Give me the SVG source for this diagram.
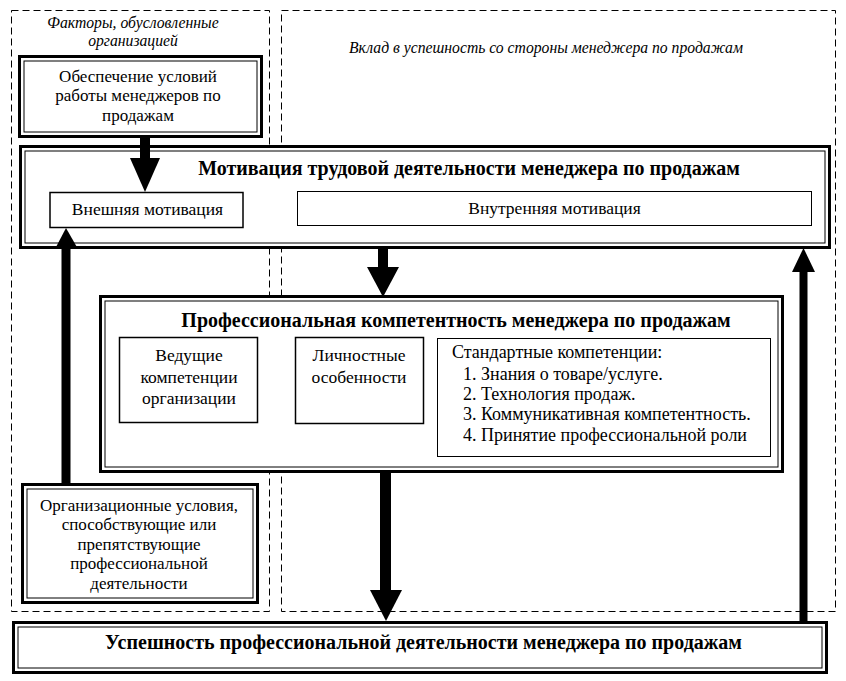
<svg xmlns="http://www.w3.org/2000/svg" width="846" height="681" viewBox="0 0 846 681">
<style>
.dash{fill:none;stroke:#000;stroke-width:1;stroke-dasharray:7,4}
.thick{fill:#fff;stroke:#000;stroke-width:3}
.thin{fill:none;stroke:#000;stroke-width:1}
.box{fill:#fff;stroke:#000;stroke-width:1.5}
text{font-family:'Liberation Serif','Times New Roman',serif;fill:#000}
.t{font-size:17.5px}
.s{font-size:17px}
.l{font-size:18px}
.b{font-size:20px;font-weight:bold}
.i{font-size:15.7px;font-style:italic}
.shaft{fill:#000}
</style>
<rect width="846" height="681" fill="#fff"/>
<g id="regions">
<rect class="dash" x="11.5" y="10.5" width="258" height="601"/>
<rect class="dash" x="281.5" y="10.5" width="554" height="601"/>
<text class="i" x="133" y="28" text-anchor="middle">Факторы, обусловленные</text>
<text class="i" x="133" y="46" text-anchor="middle">организацией</text>
<text class="i" x="546" y="53" text-anchor="middle">Вклад в успешность со стороны менеджера по продажам</text>
</g>
<g id="n-obespechenie">
<rect class="thick" x="19.5" y="56.5" width="242" height="80"/>
<rect class="thin" x="24" y="61" width="233" height="71"/>
<text class="s" x="138" y="82" text-anchor="middle">Обеспечение условий</text>
<text class="s" x="138" y="101" text-anchor="middle">работы менеджеров по</text>
<text class="s" x="138" y="121" text-anchor="middle">продажам</text>
</g>
<g id="n-motivation">
<rect class="thick" x="20.5" y="146.5" width="809" height="101"/>
<rect class="thin" x="25" y="151" width="800" height="92"/>
<text class="b" x="469" y="175" text-anchor="middle">Мотивация трудовой деятельности менеджера по продажам</text>
</g>
<g id="n-vneshnyaya">
<rect class="box" x="50" y="192.5" width="193" height="35"/>
<text class="t" x="147.5" y="215" text-anchor="middle">Внешняя мотивация</text>
</g>
<g id="n-vnutrennyaya">
<rect class="thin" x="297.5" y="191.5" width="514" height="34" fill="#fff"/>
<text class="t" x="554.5" y="214" text-anchor="middle">Внутренняя мотивация</text>
</g>
<g id="n-prof">
<rect class="thick" x="100.5" y="296.5" width="682" height="175"/>
<rect class="thin" x="105" y="301" width="673" height="166"/>
<text class="b" x="456" y="327" text-anchor="middle">Профессиональная компетентность менеджера по продажам</text>
</g>
<g id="n-vedushie">
<rect class="box" x="119.5" y="337.5" width="138" height="85"/>
<text class="t" x="189" y="361" text-anchor="middle">Ведущие</text>
<text class="t" x="189" y="383" text-anchor="middle">компетенции</text>
<text class="t" x="189" y="404" text-anchor="middle">организации</text>
</g>
<g id="n-lichnostnye">
<rect class="box" x="295.5" y="337.5" width="128" height="86"/>
<text class="t" x="359" y="361" text-anchor="middle">Личностные</text>
<text class="t" x="359" y="383" text-anchor="middle">особенности</text>
</g>
<g id="n-standart">
<rect class="thin" x="437.5" y="338.5" width="333" height="118" fill="#fff"/>
<text class="l" x="452" y="358">Стандартные компетенции:</text>
<text class="l" x="463" y="380">1. Знания о товаре/услуге.</text>
<text class="l" x="463" y="400">2. Технология продаж.</text>
<text class="l" x="463" y="420">3. Коммуникативная компетентность.</text>
<text class="l" x="463" y="441">4. Принятие профессиональной роли</text>
</g>
<g id="n-org">
<rect class="thick" x="22.5" y="484.5" width="235" height="118"/>
<rect class="thin" x="27" y="489" width="226" height="109"/>
<text class="s" x="139" y="511" text-anchor="middle">Организационные условия,</text>
<text class="s" x="139" y="530" text-anchor="middle">способствующие или</text>
<text class="s" x="139" y="550" text-anchor="middle">препятствующие</text>
<text class="s" x="139" y="569" text-anchor="middle">профессиональной</text>
<text class="s" x="139" y="589" text-anchor="middle">деятельности</text>
</g>
<g id="n-uspeshnost">
<rect class="thick" x="13.5" y="622.5" width="813" height="50"/>
<rect class="thin" x="18" y="627" width="804" height="41"/>
<text class="b" x="423.5" y="649" text-anchor="middle">Успешность профессиональной деятельности менеджера по продажам</text>
</g>
<g id="connectors">
<rect class="shaft" x="140" y="137" width="10" height="22"/>
<polygon class="shaft" points="130,158 160,158 145,192"/>
<rect class="shaft" x="61.5" y="247" width="9" height="237"/>
<polygon class="shaft" points="55,249 78,249 66,228"/>
<rect class="shaft" x="378" y="248" width="10" height="20"/>
<polygon class="shaft" points="367,267 399,267 383,297"/>
<rect class="shaft" x="380" y="472" width="11" height="119"/>
<polygon class="shaft" points="370,590 402,590 386,621"/>
<rect class="shaft" x="799.5" y="271" width="8" height="351"/>
<polygon class="shaft" points="792,272 815,272 803.5,248"/>
</g>
</svg>
